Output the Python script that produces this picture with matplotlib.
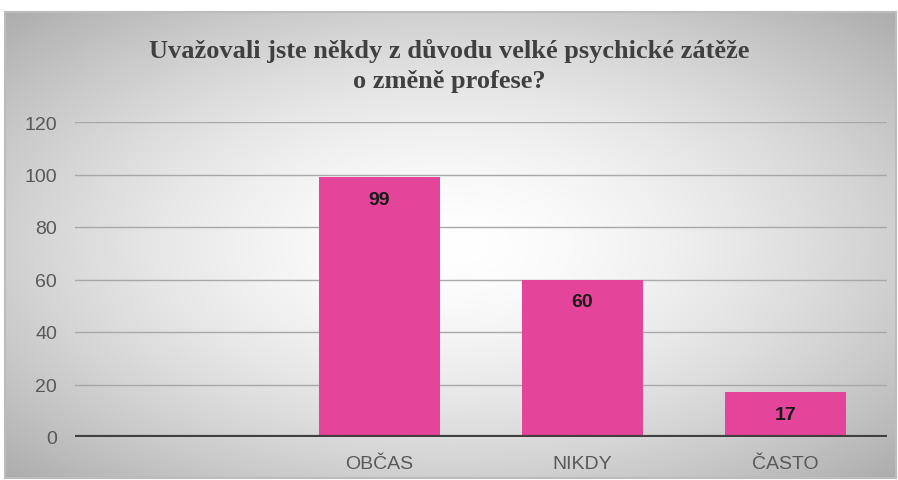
import numpy as np
import matplotlib.pyplot as plt

categories = ['', 'OBČAS', 'NIKDY', 'ČASTO']
values = [0, 99, 60, 17]
yticks = [0, 20, 40, 60, 80, 100, 120]
title = 'Uvažovali jste někdy z důvodu velké psychické zátěže\no změně profese?'

W, H = 898, 481
fig = plt.figure(figsize=(W / 100, H / 100), dpi=100)
fig.patch.set_facecolor('white')

# radial gradient background inside the frame
bg = fig.add_axes([5 / W, 2 / H, 891 / W, (H - 15) / H])
yy, xx = np.mgrid[-1:1:300j, -1:1:600j]
r = np.sqrt((xx * 0.9) ** 2 + (yy * 0.9) ** 2)
shade = 1.0 - 0.22 * np.clip(r, 0, 1.3) ** 1.6
img = np.dstack([shade] * 3)
bg.imshow(img, aspect='auto', extent=[0, 1, 0, 1], interpolation='bilinear')
bg.set_xlim(0, 1)
bg.set_ylim(0, 1)
bg.set_xticks([])
bg.set_yticks([])
for s in bg.spines.values():
    s.set_color('#bcbcbc')
    s.set_linewidth(1.5)

ax = fig.add_axes([75 / W, 43 / H, 812 / W, 315 / H])
ax.patch.set_alpha(0)
x = np.arange(len(categories))
bars = ax.bar(x, values, width=0.6, color='#E4449A', zorder=3)
for xi, v in zip(x, values):
    if v > 0:
        ax.text(xi, v - 8.5, str(v), ha='center', va='center', fontsize=14,
                fontweight='bold', color='#1a1a1a', family='Liberation Sans', zorder=4)

ax.set_xlim(-0.5, len(categories) - 0.5)
ax.set_ylim(0, 120)
ax.set_yticks(yticks)
ax.yaxis.grid(True, color='#a8a8a8', linewidth=1, zorder=0)
ax.axhline(0, color='#404040', linewidth=3, zorder=5)
ax.set_xticks(x)
ax.set_xticklabels(categories)
ax.tick_params(length=0, labelsize=14, labelcolor='#595959')
ax.tick_params(axis='x', pad=13)
ax.tick_params(axis='y', pad=13)
for lab in ax.get_xticklabels() + ax.get_yticklabels():
    lab.set_family('Liberation Sans')
for s in ax.spines.values():
    s.set_visible(False)

fig.text(449 / W, (H - 66) / H, title, ha='center', va='center', fontsize=19,
         fontweight='bold', color='#404040', family='Liberation Serif',
         linespacing=1.4)

fig.savefig('out.png', dpi=100)
